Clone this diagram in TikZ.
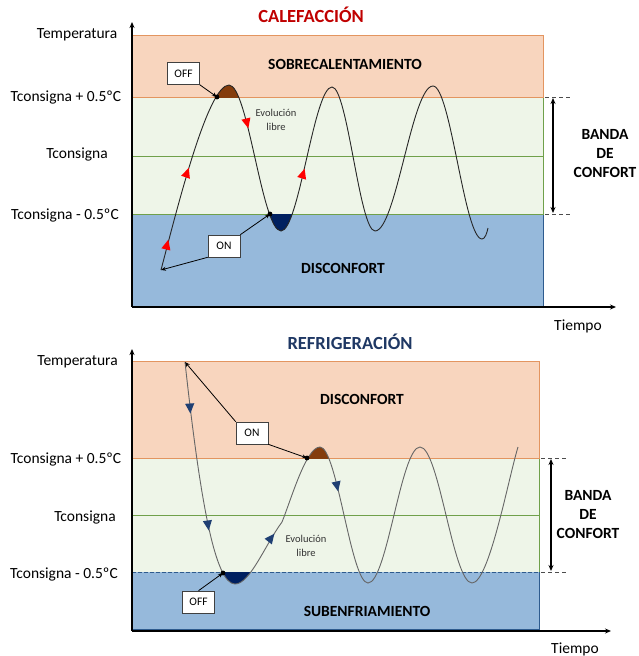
\documentclass[tikz,border=0pt]{standalone}
\usepackage{fontspec}
\setmainfont{Carlito}
\usetikzlibrary{arrows.meta}
\definecolor{orfill}{HTML}{F8D5BE}
\definecolor{orline}{HTML}{E39560}
\definecolor{grfill}{HTML}{EEF5E8}
\definecolor{grline}{HTML}{6FA04A}
\definecolor{blfill}{HTML}{96B9DB}
\definecolor{blline}{HTML}{2E5B8E}
\definecolor{brownc}{HTML}{843C0C}
\definecolor{navyc}{HTML}{002060}
\definecolor{ttlred}{HTML}{C00000}
\definecolor{ttlblue}{HTML}{1F3864}
\definecolor{arrblue}{HTML}{1F3F73}
\newcommand{\trimark}[4]{\fill[#4, shift={(#1,#2)}, rotate=#3] (5.5,0) -- (-4.5,4.6) -- (-4.5,-4.6) -- cycle;}
\def\topcurve{(161,270) .. controls (178,205) and (208,85) .. (229,85)
  .. controls (248,85) and (262,231) .. (281,231)
  .. controls (299,231) and (314,87) .. (332,87)
  .. controls (347.5,87) and (359.5,231) .. (375,231)
  .. controls (396,231) and (412,86) .. (433,86)
  .. controls (450.6,86) and (464.4,239) .. (482,239)
  .. controls (485,239) and (487,233) .. (488,228)}
\def\botcurve{(185,362) .. controls (200,500) and (215,584) .. (235,584)
  .. controls (250,584) and (265,545) .. (282,522)
  .. controls (291,500) and (306,447) .. (320,447)
  .. controls (337,447) and (351,583) .. (368,583)
  .. controls (387,583) and (401,447) .. (420,447)
  .. controls (439,447) and (453,583) .. (472,583)
  .. controls (489,583) and (508,480) .. (518,447)}
\begin{document}
\begin{tikzpicture}[x=1pt,y=-1pt,
  lbl/.style={font=\fontsize{15.5}{18}\selectfont, inner sep=0pt},
  zone/.style={font=\bfseries\fontsize{15.5}{18}\selectfont, inner sep=0pt},
  ttl/.style={font=\bfseries\fontsize{18.5}{22}\selectfont, inner sep=0pt},
  evo/.style={font=\fontsize{10.5}{13.5}\selectfont, align=center, inner sep=0pt, text=black!80},
  band/.style={font=\bfseries\fontsize{15.5}{19}\selectfont, align=center, inner sep=0pt},
  onoff/.style={draw=black!75, fill=white, line width=0.6pt, minimum width=32pt, minimum height=22pt, inner sep=0pt, font=\fontsize{11.5}{13}\selectfont},
  axis/.style={line width=1.3pt, -{Stealth[length=6pt,width=5pt]}},
  conn/.style={line width=0.8pt, -{Stealth[length=5pt,width=4pt]}},
  dashm/.style={dashed, dash pattern=on 4pt off 3pt, line width=0.8pt, black!70},
  dbl/.style={line width=1.2pt, {Stealth[length=6pt,width=5pt]}-{Stealth[length=6pt,width=5pt]}}
]
\useasboundingbox (0,0) rectangle (639,656);
\fill[white] (0,0) rectangle (639,656);

% ================= TOP: CALEFACCION =================
\node[ttl, text=ttlred] (t1) at (311,15) {CALEFACCIÓN};
\draw[fill=blfill, draw=blline, line width=1pt] (132,214) rectangle (543,307);
\draw[fill=grfill, draw=grline, line width=1pt] (132,156) rectangle (543,214);
\draw[fill=grfill, draw=grline, line width=1pt] (132,97) rectangle (543,156);
\draw[fill=orfill, draw=orline, line width=1pt] (132,35) rectangle (543,97);

\node[zone] (sobre) at (345,64) {SOBRECALENTAMIENTO};
\node[zone] (disA) at (343,268) {DISCONFORT};

\begin{scope}
  \clip (205,60) rectangle (255,97);
  \fill[brownc] \topcurve -- (488,330) -- (161,330) -- cycle;
\end{scope}
\begin{scope}
  \clip (258,214) rectangle (305,245);
  \fill[navyc] \topcurve -- (488,0) -- (161,0) -- cycle;
\end{scope}
\draw[line width=0.9pt, black!85] \topcurve;

\trimark{167}{245}{76}{red}
\trimark{187}{173}{71}{red}
\trimark{247}{123}{-76}{red}
\trimark{303}{174}{73}{red}

\coordinate (oA) at (132,307);
\coordinate (yA) at (132,22);
\coordinate (xA) at (616,307);
\draw[axis] (oA) -- (yA);
\draw[axis] (oA) -- (xA);

\coordinate (startA) at (161,270);
\coordinate (offAdot) at (217,97);
\coordinate (onAdot) at (270,214);
\fill (offAdot) circle[radius=2.4pt];
\fill (onAdot) circle[radius=2.4pt];
\node[onoff] (offA) at (183.5,73.5) {OFF};
\node[onoff] (onA) at (224,246) {ON};
\draw[conn] (offA.south east) -- (offAdot);
\draw[conn] (onA.north east) -- (onAdot);
\draw[conn] (onA.south west) -- (startA);

\node[evo] (evoA) at (276,120) {Evolución\\libre};

\node[lbl] (tempA) at (77,35) {Temperatura};
\node[lbl] (tpA) at (66,97) {Tconsigna + 0.5ºC};
\node[lbl] (tcA) at (77,154) {Tconsigna};
\node[lbl] (tmA) at (65,215) {Tconsigna - 0.5ºC};
\node[lbl] (tiA) at (578,326) {Tiempo};

\coordinate (dA1) at (545,97);
\coordinate (dA2) at (572,97);
\coordinate (dA3) at (545,214);
\coordinate (dA4) at (572,214);
\draw[dashm] (dA1) -- (dA2);
\draw[dashm] (dA3) -- (dA4);
\coordinate (bA1) at (553,98);
\coordinate (bA2) at (553,213);
\draw[dbl] (bA1) -- (bA2);
\node[band] (bandA) at (605,154) {BANDA\\DE\\CONFORT};

% ================= BOTTOM: REFRIGERACION =================
\node[ttl, text=ttlblue] (t2) at (350,342) {REFRIGERACIÓN};
\draw[fill=grfill, draw=grline, line width=1pt] (132,515) rectangle (539,572);
\draw[fill=grfill, draw=grline, line width=1pt] (132,458) rectangle (539,515);
\draw[fill=orfill, draw=orline, line width=1pt] (132,361) rectangle (539,458);
\fill[blfill] (132,572) rectangle (539,629);
\draw[blline, line width=1pt] (539,572) -- (539,629) -- (132,629);
\draw[blline, line width=0.8pt, dashed, dash pattern=on 4pt off 2pt] (132,572) -- (539,572);

\node[zone] (disB) at (362,399) {DISCONFORT};
\node[zone] (subB) at (367,611) {SUBENFRIAMIENTO};

\begin{scope}
  \clip (295,430) rectangle (345,458);
  \fill[brownc] \botcurve -- (518,660) -- (185,660) -- cycle;
\end{scope}
\begin{scope}
  \clip (210,572) rectangle (260,600);
  \fill[navyc] \botcurve -- (518,340) -- (185,340) -- cycle;
\end{scope}
\draw[line width=0.9pt, black!60] \botcurve;

\trimark{190}{408}{-86}{arrblue}
\trimark{208}{525}{-82}{arrblue}
\trimark{271}{538}{52}{arrblue}
\trimark{337}{486}{-78}{arrblue}

\coordinate (oB) at (132,631);
\coordinate (yB) at (132,349);
\coordinate (xB) at (611,631);
\draw[axis] (oB) -- (yB);
\draw[axis] (oB) -- (xB);

\coordinate (startB) at (185,362);
\coordinate (offBdot) at (223,573);
\coordinate (onBdot) at (307,458);
\fill (offBdot) circle[radius=2.4pt];
\fill (onBdot) circle[radius=2.4pt];
\node[onoff] (offB) at (198.5,602) {OFF};
\node[onoff] (onB) at (252,433) {ON};
\draw[conn] (offB.north) -- (offBdot);
\draw[conn] (onB.north west) -- (startB);
\draw[conn] (onB.south east) -- (onBdot);

\node[evo] (evoB) at (306,546) {Evolución\\libre};

\node[lbl] (tempB) at (77.5,362) {Temperatura};
\node[lbl] (tpB) at (66,459) {Tconsigna + 0.5ºC};
\node[lbl] (tcB) at (85,517) {Tconsigna};
\node[lbl] (tmB) at (64,574) {Tconsigna - 0.5ºC};
\node[lbl] (tiB) at (575,649) {Tiempo};

\coordinate (dB1) at (541,458);
\coordinate (dB2) at (568,458);
\coordinate (dB3) at (541,572);
\coordinate (dB4) at (568,572);
\draw[dashm] (dB1) -- (dB2);
\draw[dashm] (dB3) -- (dB4);
\coordinate (bB1) at (551,459);
\coordinate (bB2) at (551,571);
\draw[dbl] (bB1) -- (bB2);
\node[band] (bandB) at (588,515) {BANDA\\DE\\CONFORT};
\end{tikzpicture}
\end{document}
